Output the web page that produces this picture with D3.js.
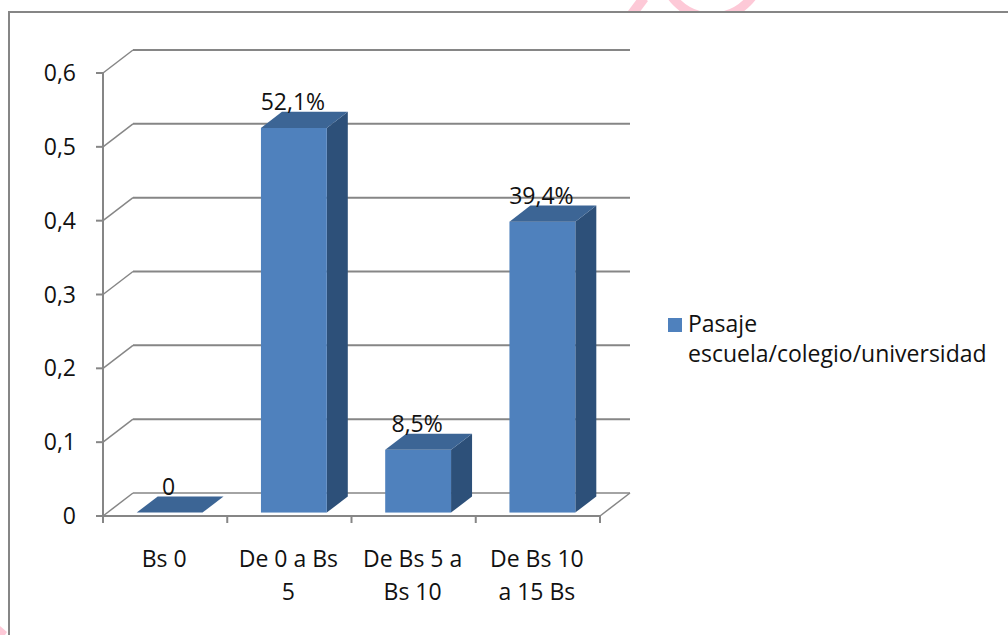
<!DOCTYPE html>
<html>
<head>
<meta charset="utf-8">
<script src="https://cdn.jsdelivr.net/npm/d3@7/dist/d3.min.js"></script>
<style>
  html, body { margin: 0; padding: 0; background: #fff; }
  svg { display: block; }
  text { font-family: "Open Sans", "Noto Sans", sans-serif; font-size: 23px; fill: #111; }
</style>
</head>
<body>
<svg id="chart" width="1008" height="635"></svg>
<script>
// Chart data
const categories = ["Bs 0", "De 0 a Bs 5", "De Bs 5 a Bs 10", "De Bs 10 a 15 Bs"];
const categoryLines = [["Bs 0"], ["De 0 a Bs", "5"], ["De Bs 5 a", "Bs 10"], ["De Bs 10", "a 15 Bs"]];
const values = [0, 0.521, 0.085, 0.394];
const seriesName = ["Pasaje", "escuela/colegio/universidad"];
const yTicks = [0, 0.1, 0.2, 0.3, 0.4, 0.5, 0.6];

const svg = d3.select("#chart");
const W = 1008, H = 635;

// Plot geometry (front plane) and the 3D depth offset of the back wall
const plot = { left: 103, right: 600, top: 73, bottom: 516 };
const depth = { dx: 30, dy: 23 };
const barFront = 0.15, barBack = 0.85;   // bar depth as fraction of the floor depth
const barRatio = 0.53;                   // bar width relative to category band

const gridColor = "#868686";
const colFront = "#4F81BD", colTop = "#3C6595", colSide = "#2D5079";

const locale = d3.formatLocale({ decimal: ",", thousands: ".", grouping: [3], currency: ["", ""] });
const fmtTick = v => locale.format("~g")(+v.toFixed(2));
const fmtLabel = v => v === 0 ? "0" : locale.format(".1f")(v * 100) + "%";

const y = d3.scaleLinear().domain([0, 0.6]).range([plot.bottom, plot.top]);
const x = d3.scaleBand().domain(categories).range([plot.left, plot.right]).padding(0);

// Faint watermark remnants above the frame
svg.append("clipPath").attr("id", "wmclip")
  .append("rect").attr("x", 0).attr("y", 0).attr("width", W).attr("height", 11);
const wmg = svg.append("g").attr("clip-path", "url(#wmclip)");
wmg.append("line").attr("x1", 632).attr("y1", 14).attr("x2", 644).attr("y2", -2)
  .attr("stroke", "#FDC9D7").attr("stroke-width", 10);
wmg.append("circle").attr("cx", 712).attr("cy", -33).attr("r", 50)
  .attr("fill", "none").attr("stroke", "#FDC9D7").attr("stroke-width", 9);
svg.append("path").attr("d", "M0,635 L0,626 L7,632 L5,635 Z").attr("fill", "#FDC9D7");

// Chart area frame (top and left edges)
svg.append("line").attr("x1", 9).attr("y1", 12).attr("x2", W).attr("y2", 12)
  .attr("stroke", gridColor).attr("stroke-width", 2);
svg.append("line").attr("x1", 9).attr("y1", 11).attr("x2", 9).attr("y2", H)
  .attr("stroke", gridColor).attr("stroke-width", 2);

// Back wall gridlines with side-wall diagonals
const grid = svg.append("g");
yTicks.forEach(t => {
  const yy = y(t);
  const isFloor = t === 0;
  const sw = isFloor ? 1.5 : 2;
  grid.append("line")
    .attr("x1", plot.left + depth.dx).attr("y1", yy - depth.dy)
    .attr("x2", plot.right + depth.dx).attr("y2", yy - depth.dy)
    .attr("stroke", gridColor).attr("stroke-width", sw);
  grid.append("line")
    .attr("x1", plot.left).attr("y1", yy)
    .attr("x2", plot.left + depth.dx).attr("y2", yy - depth.dy)
    .attr("stroke", gridColor).attr("stroke-width", 1.5);
});
// Floor right edge
grid.append("line")
  .attr("x1", plot.right).attr("y1", plot.bottom)
  .attr("x2", plot.right + depth.dx).attr("y2", plot.bottom - depth.dy)
  .attr("stroke", gridColor).attr("stroke-width", 1.5);

// Value axis
const yAxis = svg.append("g");
yAxis.append("line").attr("x1", plot.left).attr("y1", y(0.6)).attr("x2", plot.left).attr("y2", plot.bottom)
  .attr("stroke", gridColor).attr("stroke-width", 2);
yTicks.forEach(t => {
  yAxis.append("line").attr("x1", plot.left - 7).attr("y1", y(t)).attr("x2", plot.left).attr("y2", y(t))
    .attr("stroke", gridColor).attr("stroke-width", 2);
  yAxis.append("text").attr("x", 76).attr("y", y(t) + 8).attr("text-anchor", "end").text(fmtTick(t));
});

// Category axis
const xAxis = svg.append("g");
xAxis.append("line").attr("x1", plot.left).attr("y1", plot.bottom).attr("x2", plot.right).attr("y2", plot.bottom)
  .attr("stroke", gridColor).attr("stroke-width", 2);
const tickXs = categories.map(c => x(c)).concat([x.range()[1]]);
tickXs.forEach(tx => {
  xAxis.append("line").attr("x1", tx).attr("y1", plot.bottom).attr("x2", tx).attr("y2", plot.bottom + 7)
    .attr("stroke", gridColor).attr("stroke-width", 2);
});
categories.forEach((c, i) => {
  const t = xAxis.append("text").attr("text-anchor", "middle")
    .attr("x", x(c) + x.bandwidth() / 2 - 1).attr("y", 567);
  categoryLines[i].forEach((ln, j) => {
    t.append("tspan").attr("x", x(c) + x.bandwidth() / 2 - 1).attr("dy", j === 0 ? 0 : 33).text(ln);
  });
});

// 3D bars
const bars = svg.append("g");
const pt = (px, py) => px + "," + py;
categories.forEach((c, i) => {
  const v = values[i];
  const cx = x(c) + x.bandwidth() / 2;
  const bw = x.bandwidth() * barRatio;
  const xl = cx - bw / 2, xr = cx + bw / 2;
  const y0 = y(0), yv = y(v);
  const fx0 = depth.dx * barFront, fy0 = depth.dy * barFront;
  const fx1 = depth.dx * barBack, fy1 = depth.dy * barBack;
  const g = bars.append("g");
  // side face
  g.append("polygon").attr("fill", colSide).attr("points", [
    pt(xr + fx0, yv - fy0), pt(xr + fx1, yv - fy1), pt(xr + fx1, y0 - fy1), pt(xr + fx0, y0 - fy0)
  ].join(" "));
  // front face
  g.append("rect").attr("fill", colFront)
    .attr("x", xl + fx0).attr("y", yv - fy0).attr("width", bw).attr("height", y0 - yv);
  // top face
  g.append("polygon").attr("fill", colTop).attr("points", [
    pt(xl + fx0, yv - fy0), pt(xr + fx0, yv - fy0), pt(xr + fx1, yv - fy1), pt(xl + fx1, yv - fy1)
  ].join(" "));
  // value label
  svg.append("text").attr("text-anchor", "middle")
    .attr("x", cx + fx0 - 1).attr("y", yv - fy0 - 18).text(fmtLabel(v));
});

// Legend
const lg = svg.append("g");
lg.append("rect").attr("x", 668).attr("y", 318).attr("width", 14).attr("height", 14).attr("fill", colFront);
const lt = lg.append("text").attr("x", 688).attr("y", 332);
seriesName.forEach((s, j) => lt.append("tspan").attr("x", 688).attr("dy", j === 0 ? 0 : 30).text(s));
</script>
</body>
</html>
